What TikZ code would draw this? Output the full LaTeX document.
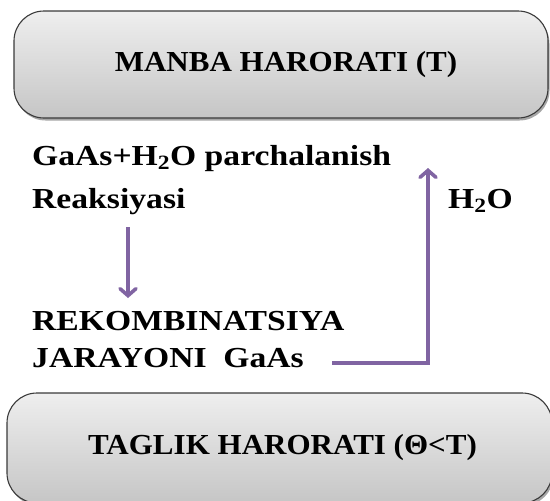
\documentclass[tikz,border=0pt]{standalone}
\usepackage{fontspec}
\setmainfont{Liberation Serif}
\newfontfamily\midfont{Liberation Serif}[FakeStretch=1.16]
\newfontfamily\boxfont{Liberation Serif}[FakeStretch=1.07]
\usetikzlibrary{arrows.meta,shadows}
\definecolor{arrpurple}{HTML}{8064A2}
\definecolor{boxedge}{HTML}{3A3A3A}
\tikzset{
  bigbox/.style={draw=boxedge, line width=1.1pt, rounded corners=30pt,
    top color=gray!13, bottom color=gray!45,
    drop shadow={shadow xshift=1.5pt, shadow yshift=-2.5pt, opacity=0.35, fill=black},
    font=\boxfont\bfseries\fontsize{29}{34}\selectfont, inner sep=0pt},
  midtext/.style={anchor=base west, inner sep=0pt,
    font=\midfont\bfseries\fontsize{29}{34}\selectfont},
  flow/.style={draw=arrpurple, line width=3.6pt,
    -{Straight Barb[length=7pt,width=16pt,line cap=round]}}
}
\begin{document}
\begin{tikzpicture}[x=1pt,y=-1pt]
\useasboundingbox (0,0) rectangle (550,501);
\node[bigbox, minimum width=534pt, minimum height=107pt] (src) at (281,64.5)
  {\hspace*{10pt}MANBA HARORATI (T)};
\node[bigbox, minimum width=545pt, minimum height=110pt] (sink) at (279.5,448)
  {\hspace*{6pt}TAGLIK HARORATI (Θ<T)};
\node[midtext] (l1) at (32,165) {GaAs+H\textsubscript{2}O parchalanish};
\node[midtext] (l2) at (32,208) {Reaksiyasi};
\node[midtext] (l3) at (32,330) {REKOMBINATSIYA};
\node[midtext] (l4) at (32,367) {JARAYONI~~GaAs};
\node[midtext] (h2o) at (448,208) {H\textsubscript{2}O};
\coordinate (d1) at (128,227);
\coordinate (d2) at (128,298);
\coordinate (e1) at (332,363);
\coordinate (e2) at (428,168);
\draw[flow] (d1) -- (d2);
\draw[flow] (e1) -| (e2);
\end{tikzpicture}
\end{document}
